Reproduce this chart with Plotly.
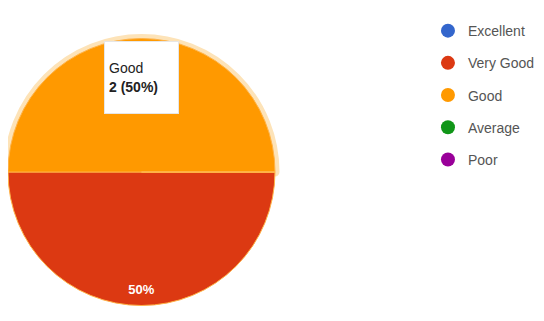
import plotly.graph_objects as go

categories = ["Excellent", "Very Good", "Good", "Average", "Poor"]
counts = [0, 2, 2, 0, 0]
colors = ["#3366cc", "#dc3912", "#ff9900", "#109618", "#990099"]
highlight = "Good"

W, H = 544, 321
cx, cy = 132, 164   # pie centre in px (from top-left of the figure)
D = 270             # pie diameter px

def dom(d):
    return dict(x=[max(0, (cx - d / 2) / W), min(1, (cx + d / 2) / W)],
                y=[max(0, (H - cy - d / 2) / H), min(1, (H - cy + d / 2) / H)])

transparent = "rgba(0,0,0,0)"
common = dict(labels=categories, values=counts, sort=False, direction="clockwise",
              rotation=90, domain=dom(D), showlegend=False)

fig = go.Figure()
# highlight ring around the hovered slice (stroke drawn behind the main pie)
ring = ["#fde3b8" if c == highlight else transparent for c in categories]
fig.add_trace(go.Pie(**common, textinfo="none", hoverinfo="skip",
                     marker=dict(colors=ring,
                                 line=dict(color=ring,
                                           width=[9 if c == highlight else 0 for c in categories]))))
# main pie
fig.add_trace(go.Pie(**common, textinfo="none",
                     marker=dict(colors=colors, line=dict(color="#ffb347", width=1))))
# percentage labels placed in the outer band of each slice
fig.add_trace(go.Pie(**common, hole=0.78, hoverinfo="skip",
                     marker=dict(colors=[transparent] * len(categories), line=dict(width=0)),
                     texttemplate=["" if c == highlight else "<b>%{percent:.0%}</b>" for c in categories],
                     textposition="inside", insidetextorientation="horizontal",
                     textfont=dict(color="white", size=13, family="Arial")))

# legend entries as round markers
for c, col in zip(categories, colors):
    fig.add_trace(go.Scatter(x=[None], y=[None], mode="markers", name=c, legendgroup=c,
                             marker=dict(color=col, size=14, symbol="circle")))

# tooltip for the highlighted slice
idx = categories.index(highlight)
total = sum(counts)
fig.add_annotation(xref="paper", yref="paper", x=133.5 / W, y=(H - 33) / H,
                   xanchor="center", yanchor="top", showarrow=False,
                   text=f"{highlight}<br><b>{counts[idx]} ({counts[idx]/total:.0%})</b>",
                   align="left", valign="middle", width=65, height=63,
                   bgcolor="white", bordercolor="#e6e6e6", borderwidth=1, borderpad=4,
                   font=dict(family="Arial", size=14, color="#222"))

fig.update_layout(width=W, height=H, margin=dict(l=0, r=0, t=0, b=0),
                  paper_bgcolor="white", plot_bgcolor="white",
                  xaxis=dict(visible=False), yaxis=dict(visible=False),
                  legend=dict(x=0.772, y=0.978, xanchor="left", yanchor="top",
                              font=dict(family="Arial", size=14, color="#555"),
                              itemsizing="trace", tracegroupgap=11))
fig.write_html("out.html")
